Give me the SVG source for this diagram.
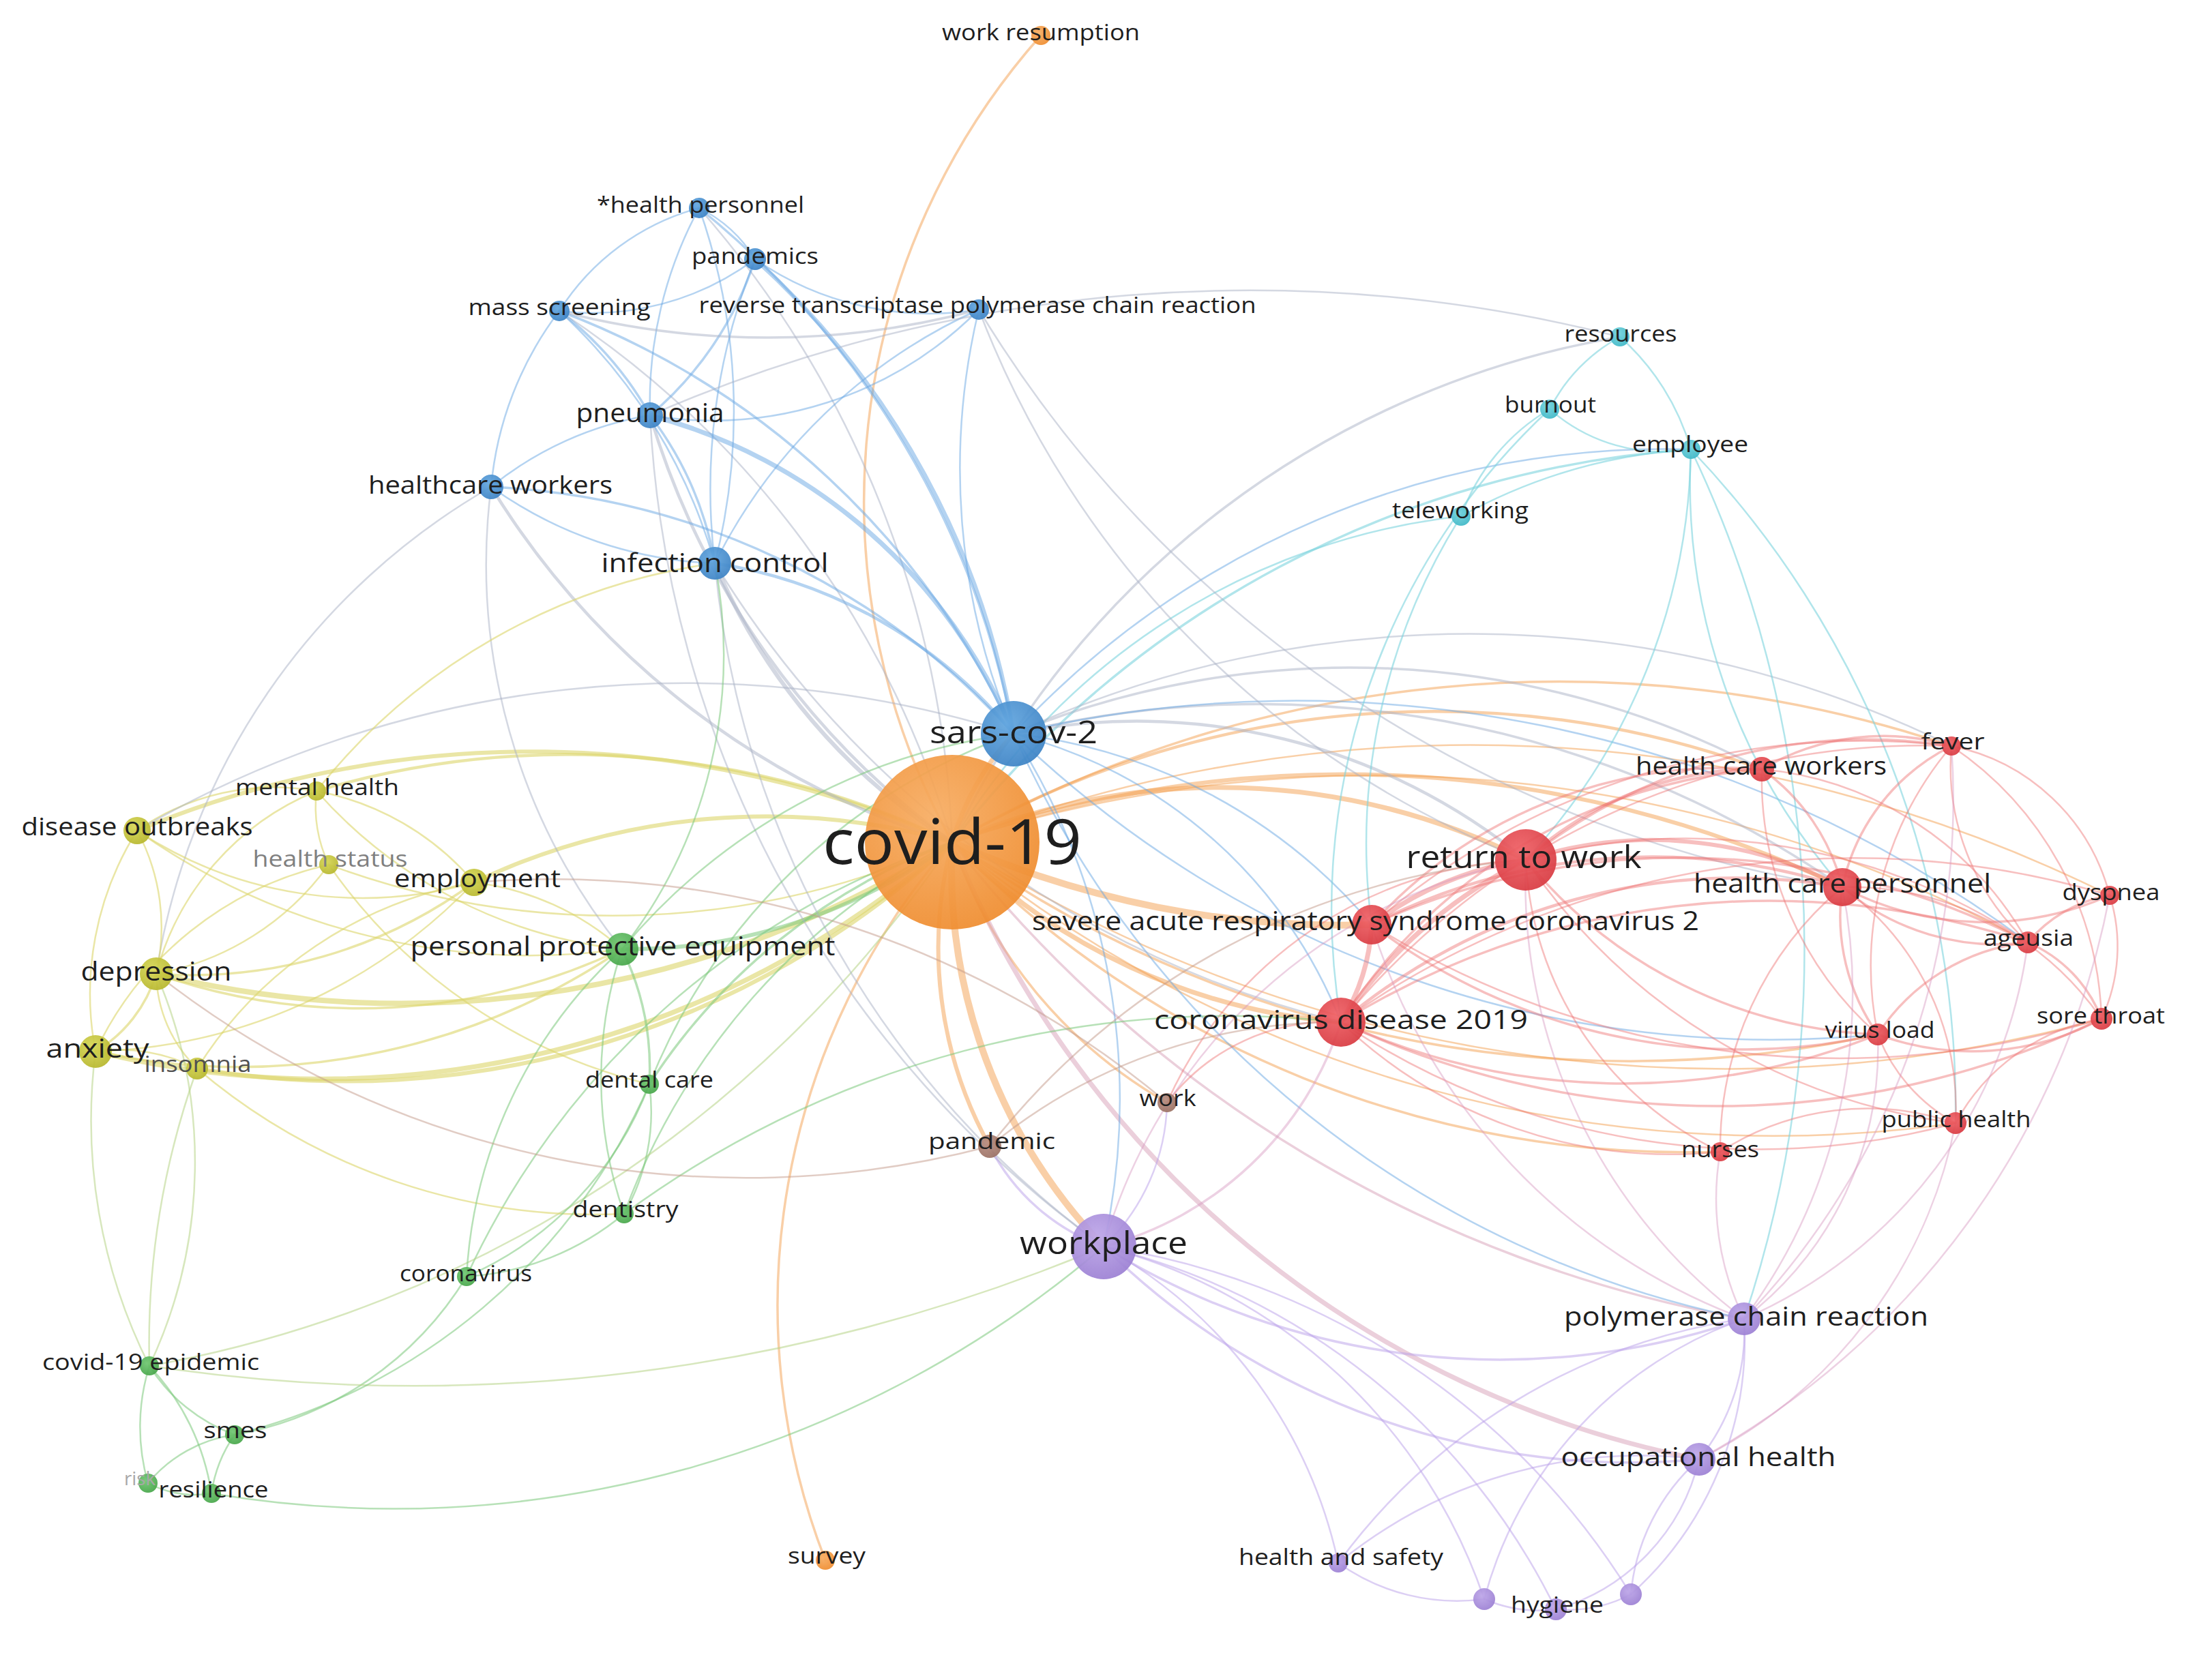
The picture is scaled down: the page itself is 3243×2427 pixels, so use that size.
<svg xmlns="http://www.w3.org/2000/svg" width="3243" height="2427" viewBox="0 0 3243 2427">
<style>
.e path{fill:none;stroke-linecap:round}
.o{stroke:#f4a04f;stroke-opacity:.5}
.r{stroke:#ee7070;stroke-opacity:.45}
.b{stroke:#6aa7e3;stroke-opacity:.5}
.y{stroke:#dcd66a;stroke-opacity:.6}
.g{stroke:#7cc97c;stroke-opacity:.55}
.p{stroke:#b9a0ea;stroke-opacity:.5}
.c{stroke:#7dd4de;stroke-opacity:.6}
.n{stroke:#c4998a;stroke-opacity:.5}
.x{stroke:#a9b1c6;stroke-opacity:.5}
.rp{stroke:#d89ac0;stroke-opacity:.45}
.op{stroke:#d7a0b8;stroke-opacity:.5}
.gy{stroke:#b7d486;stroke-opacity:.55}
.w2{stroke-width:2.5}.w3{stroke-width:3.5}.w4{stroke-width:4.5}.w5{stroke-width:6}.w6{stroke-width:7}.w7{stroke-width:8}.w8{stroke-width:10}
.nd circle{fill-opacity:.93}
.t{font-family:"Open Sans","DejaVu Sans",sans-serif;fill:#1e1e1e;text-anchor:middle}
.f1{font-size:92px}.f2{font-size:46px}.f3{font-size:39px}.f4{font-size:36px}.f5{font-size:32px}.f6{font-size:28px}
.gr1{fill:#808080}.gr2{fill:#505050}.gr3{fill:#a8a8a8}
</style>
<defs>
<radialGradient id="gO" cx=".4" cy=".35" r=".7"><stop offset="0" stop-color="#f7ad63"/><stop offset="1" stop-color="#ef8c2e"/></radialGradient>
<radialGradient id="gB" cx=".4" cy=".35" r=".7"><stop offset="0" stop-color="#62a6df"/><stop offset="1" stop-color="#3c82c4"/></radialGradient>
<radialGradient id="gC" cx=".4" cy=".35" r=".7"><stop offset="0" stop-color="#74d3dd"/><stop offset="1" stop-color="#3db7c6"/></radialGradient>
<radialGradient id="gR" cx=".4" cy=".35" r=".7"><stop offset="0" stop-color="#ef6065"/><stop offset="1" stop-color="#d83a41"/></radialGradient>
<radialGradient id="gY" cx=".4" cy=".35" r=".7"><stop offset="0" stop-color="#d6d655"/><stop offset="1" stop-color="#b6b62c"/></radialGradient>
<radialGradient id="gG" cx=".4" cy=".35" r=".7"><stop offset="0" stop-color="#70c772"/><stop offset="1" stop-color="#46a549"/></radialGradient>
<radialGradient id="gP" cx=".4" cy=".35" r=".7"><stop offset="0" stop-color="#bda6e8"/><stop offset="1" stop-color="#9b7fd3"/></radialGradient>
<radialGradient id="gN" cx=".4" cy=".35" r=".7"><stop offset="0" stop-color="#b88e81"/><stop offset="1" stop-color="#9a7063"/></radialGradient>
</defs>
<rect width="3243" height="2427" fill="#ffffff"/>
<g id="connectors" class="e">
<path class="o w3" d="M1396 1235A1030 1030 0 0 1 1526 52"/>
<path class="o w3" d="M1210 2288A1030 1030 0 0 1 1396 1235"/>
<path class="o w6" d="M1396 1235A400 400 0 0 1 1486 1076"/>
<path class="o w6" d="M1396 1235A1000 1000 0 0 1 2237 1261"/>
<path class="o w8" d="M1396 1235A1400 1400 0 0 0 2011 1356"/>
<path class="o w6" d="M1396 1235A900 900 0 0 0 1966 1499"/>
<path class="o w5" d="M1396 1235A1700 1700 0 0 1 2701 1301"/>
<path class="o w4" d="M1396 1235A1400 1400 0 0 1 2583 1128"/>
<path class="o w3" d="M1396 1235A1800 1800 0 0 1 2861 1094"/>
<path class="o w3" d="M1396 1235A1700 1700 0 0 0 2753 1517"/>
<path class="o w2" d="M1396 1235A1900 1900 0 0 0 2867 1647"/>
<path class="o w3" d="M1396 1235A1500 1500 0 0 0 2522 1689"/>
<path class="o w2" d="M1396 1235A2000 2000 0 0 1 2973 1382"/>
<path class="o w2" d="M1396 1235A2100 2100 0 0 0 3081 1494"/>
<path class="o w2" d="M1396 1235A2100 2100 0 0 1 3093 1313"/>
<path class="o w8" d="M1396 1235A800 800 0 0 0 1618 1828"/>
<path class="o w5" d="M1396 1235A600 600 0 0 0 1451 1681"/>
<path class="o w3" d="M1396 1235A700 700 0 0 0 1711 1617"/>
<path class="op w6" d="M1396 1235A1490 1490 0 0 0 2491 2140"/>
<path class="op w3" d="M1396 1235A1900 1900 0 0 0 2557 1934"/>
<path class="y w7" d="M1396 1235A1500 1500 0 0 1 229 1428"/>
<path class="y w6" d="M1396 1235A1400 1400 0 0 1 140 1542"/>
<path class="y w5" d="M1396 1235A1300 1300 0 0 1 289 1567"/>
<path class="y w5" d="M1396 1235A1500 1500 0 0 0 201 1218"/>
<path class="y w4" d="M1396 1235A1300 1300 0 0 0 464 1160"/>
<path class="y w5" d="M1396 1235A1000 1000 0 0 0 695 1294"/>
<path class="y w2" d="M1396 1235A1200 1200 0 0 1 482 1268"/>
<path class="g w5" d="M1396 1235A800 800 0 0 1 912 1392"/>
<path class="g w3" d="M1396 1235A900 900 0 0 0 952 1590"/>
<path class="g w2" d="M1396 1235A1000 1000 0 0 0 915 1780"/>
<path class="g w2" d="M1396 1235A1200 1200 0 0 0 684 1872"/>
<path class="x w5" d="M1396 1235A900 900 0 0 1 1048 826"/>
<path class="x w4" d="M1396 1235A1200 1200 0 0 1 953 609"/>
<path class="x w4" d="M1396 1235A1200 1200 0 0 1 720 714"/>
<path class="x w2" d="M1396 1235A1400 1400 0 0 0 820 456"/>
<path class="x w2" d="M1396 1235A1500 1500 0 0 0 1025 305"/>
<path class="x w3" d="M1396 1235A1330 1330 0 0 1 2375 494"/>
<path class="c w3" d="M1396 1235A1500 1500 0 0 1 2479 659"/>
<path class="c w2" d="M1396 1235A1000 1000 0 0 1 2142 757"/>
<path class="gy w2" d="M1396 1235A1800 1800 0 0 1 219 2003"/>
<path class="b w5" d="M1486 1076A1200 1200 0 0 0 1107 380"/>
<path class="b w3" d="M1486 1076A1300 1300 0 0 0 1025 305"/>
<path class="b w6" d="M1486 1076A800 800 0 0 0 953 609"/>
<path class="b w4" d="M1486 1076A700 700 0 0 0 1048 826"/>
<path class="b w3" d="M1486 1076A1100 1100 0 0 0 720 714"/>
<path class="b w3" d="M1486 1076A1200 1200 0 0 0 820 456"/>
<path class="b w2" d="M1486 1076A1000 1000 0 0 1 1435 454"/>
<path class="x w4" d="M1486 1076A900 900 0 0 1 2237 1261"/>
<path class="x w3" d="M1486 1076A1500 1500 0 0 1 2701 1301"/>
<path class="x w2" d="M1486 1076A1600 1600 0 0 1 2861 1094"/>
<path class="x w3" d="M1486 1076A1300 1300 0 0 1 2583 1128"/>
<path class="b w2" d="M1486 1076A700 700 0 0 1 1966 1499"/>
<path class="b w2" d="M1486 1076A800 800 0 0 1 2011 1356"/>
<path class="b w2" d="M1486 1076A1000 1000 0 0 1 1618 1828"/>
<path class="b w2" d="M1486 1076A1500 1500 0 0 0 2557 1934"/>
<path class="b w2" d="M1486 1076A1300 1300 0 0 1 2479 659"/>
<path class="b w2" d="M1486 1076A1600 1600 0 0 0 2753 1517"/>
<path class="b w2" d="M1486 1076A1800 1800 0 0 1 2973 1382"/>
<path class="b w2" d="M1025 305A200 200 0 0 1 1107 380"/>
<path class="b w2" d="M1025 305A350 350 0 0 0 820 456"/>
<path class="b w2" d="M1025 305A600 600 0 0 0 953 609"/>
<path class="b w2" d="M1025 305A900 900 0 0 1 1048 826"/>
<path class="b w2" d="M1107 380A400 400 0 0 1 820 456"/>
<path class="b w3" d="M1107 380A500 500 0 0 1 953 609"/>
<path class="b w2" d="M1107 380A900 900 0 0 0 1048 826"/>
<path class="b w2" d="M1107 380A450 450 0 0 0 1435 454"/>
<path class="b w3" d="M820 456A500 500 0 0 1 953 609"/>
<path class="b w2" d="M820 456A500 500 0 0 0 720 714"/>
<path class="b w2" d="M820 456A800 800 0 0 1 1048 826"/>
<path class="x w3" d="M820 456A1200 1200 0 0 0 1435 454"/>
<path class="b w2" d="M953 609A550 550 0 0 0 1435 454"/>
<path class="b w2" d="M953 609A500 500 0 0 0 720 714"/>
<path class="b w3" d="M953 609A500 500 0 0 1 1048 826"/>
<path class="b w2" d="M720 714A600 600 0 0 0 1048 826"/>
<path class="b w2" d="M1048 826A800 800 0 0 1 1435 454"/>
<path class="x w2" d="M953 609A2200 2200 0 0 1 2375 494"/>
<path class="x w2" d="M1435 454A1800 1800 0 0 0 2701 1301"/>
<path class="x w2" d="M1435 454A1400 1400 0 0 0 2237 1261"/>
<path class="x w2" d="M1048 826A1500 1500 0 0 0 1966 1499"/>
<path class="x w2" d="M720 714A900 900 0 0 0 912 1392"/>
<path class="x w2" d="M720 714A1000 1000 0 0 0 229 1428"/>
<path class="x w2" d="M1048 826A1400 1400 0 0 0 1618 1828"/>
<path class="x w2" d="M953 609A1600 1600 0 0 0 1618 1828"/>
<path class="c w2" d="M2375 494A250 250 0 0 0 2272 600"/>
<path class="c w2" d="M2375 494A350 350 0 0 1 2479 659"/>
<path class="c w2" d="M2272 600A250 250 0 0 0 2479 659"/>
<path class="c w2" d="M2272 600A300 300 0 0 0 2142 757"/>
<path class="c w2" d="M2142 757A800 800 0 0 1 2479 659"/>
<path class="c w2" d="M2479 659A1700 1700 0 0 1 2557 1934"/>
<path class="c w2" d="M2479 659A900 900 0 0 0 2701 1301"/>
<path class="c w2" d="M2479 659A900 900 0 0 1 2237 1261"/>
<path class="c w2" d="M2479 659A1400 1400 0 0 1 2867 1647"/>
<path class="c w2" d="M2272 600A1000 1000 0 0 0 1966 1499"/>
<path class="c w2" d="M2142 757A900 900 0 0 0 2011 1356"/>
<path class="r w6" d="M2237 1261A500 500 0 0 0 2011 1356"/>
<path class="r w6" d="M2237 1261A700 700 0 0 0 1966 1499"/>
<path class="r w5" d="M2237 1261A600 600 0 0 1 2701 1301"/>
<path class="r w4" d="M2237 1261A500 500 0 0 1 2583 1128"/>
<path class="r w3" d="M2237 1261A800 800 0 0 1 2861 1094"/>
<path class="r w3" d="M2237 1261A700 700 0 0 0 2753 1517"/>
<path class="r w2" d="M2237 1261A900 900 0 0 1 2973 1382"/>
<path class="r w2" d="M2237 1261A900 900 0 0 0 2867 1647"/>
<path class="r w2" d="M2237 1261A500 500 0 0 0 2522 1689"/>
<path class="r w6" d="M2011 1356A300 300 0 0 1 1966 1499"/>
<path class="r w4" d="M2011 1356A900 900 0 0 1 2701 1301"/>
<path class="r w3" d="M2011 1356A900 900 0 0 0 2753 1517"/>
<path class="r w2" d="M2011 1356A1100 1100 0 0 1 2861 1094"/>
<path class="r w3" d="M2011 1356A1100 1100 0 0 1 2973 1382"/>
<path class="r w2" d="M2011 1356A1300 1300 0 0 0 3081 1494"/>
<path class="r w3" d="M2011 1356A700 700 0 0 1 2583 1128"/>
<path class="r w4" d="M1966 1499A900 900 0 0 1 2701 1301"/>
<path class="r w3" d="M1966 1499A1000 1000 0 0 0 2753 1517"/>
<path class="r w3" d="M1966 1499A1300 1300 0 0 0 3081 1494"/>
<path class="r w3" d="M1966 1499A1200 1200 0 0 1 2973 1382"/>
<path class="r w2" d="M1966 1499A1300 1300 0 0 1 3093 1313"/>
<path class="r w2" d="M1966 1499A1100 1100 0 0 0 2867 1647"/>
<path class="r w2" d="M1966 1499A700 700 0 0 0 2522 1689"/>
<path class="r w2" d="M1966 1499A1100 1100 0 0 1 2861 1094"/>
<path class="r w3" d="M1966 1499A800 800 0 0 1 2583 1128"/>
<path class="r w3" d="M2701 1301A300 300 0 0 0 2583 1128"/>
<path class="r w3" d="M2701 1301A300 300 0 0 1 2861 1094"/>
<path class="r w3" d="M2701 1301A450 450 0 0 0 3093 1313"/>
<path class="r w3" d="M2701 1301A350 350 0 0 0 2973 1382"/>
<path class="r w2" d="M2701 1301A450 450 0 0 1 3081 1494"/>
<path class="r w3" d="M2701 1301A300 300 0 0 0 2753 1517"/>
<path class="r w2" d="M2701 1301A400 400 0 0 1 2867 1647"/>
<path class="r w2" d="M2701 1301A500 500 0 0 0 2522 1689"/>
<path class="r w3" d="M2583 1128A350 350 0 0 1 2861 1094"/>
<path class="r w2" d="M2583 1128A500 500 0 0 0 2753 1517"/>
<path class="r w2" d="M2583 1128A500 500 0 0 1 2973 1382"/>
<path class="r w2" d="M2861 1094A300 300 0 0 1 3093 1313"/>
<path class="r w2" d="M2861 1094A350 350 0 0 0 2973 1382"/>
<path class="r w2" d="M2861 1094A500 500 0 0 1 3081 1494"/>
<path class="r w2" d="M2861 1094A500 500 0 0 0 2753 1517"/>
<path class="r w3" d="M3093 1313A200 200 0 0 0 2973 1382"/>
<path class="r w2" d="M3093 1313A250 250 0 0 1 3081 1494"/>
<path class="r w3" d="M2973 1382A200 200 0 0 1 3081 1494"/>
<path class="r w3" d="M2973 1382A300 300 0 0 0 2753 1517"/>
<path class="r w3" d="M3081 1494A400 400 0 0 1 2753 1517"/>
<path class="r w2" d="M2753 1517A250 250 0 0 0 2867 1647"/>
<path class="r w2" d="M2867 1647A300 300 0 0 1 3081 1494"/>
<path class="r w2" d="M2522 1689A400 400 0 0 1 2867 1647"/>
<path class="r w2" d="M1966 1499A300 300 0 0 0 1711 1617"/>
<path class="r w2" d="M1711 1617A600 600 0 0 1 2237 1261"/>
<path class="n w2" d="M1451 1681A800 800 0 0 1 1966 1499"/>
<path class="n w2" d="M1451 1681A1100 1100 0 0 1 2237 1261"/>
<path class="rp w2" d="M2701 1301A800 800 0 0 1 2557 1934"/>
<path class="rp w2" d="M2753 1517A500 500 0 0 1 2557 1934"/>
<path class="rp w2" d="M2973 1382A700 700 0 0 1 2557 1934"/>
<path class="rp w2" d="M2237 1261A800 800 0 0 0 2557 1934"/>
<path class="rp w2" d="M2011 1356A900 900 0 0 0 2557 1934"/>
<path class="rp w2" d="M2237 1261A800 800 0 0 0 1618 1828"/>
<path class="rp w3" d="M1966 1499A500 500 0 0 1 1618 1828"/>
<path class="rp w2" d="M2867 1647A700 700 0 0 1 2491 2140"/>
<path class="rp w2" d="M2861 1094A1100 1100 0 0 1 2557 1934"/>
<path class="rp w2" d="M2522 1689A400 400 0 0 0 2557 1934"/>
<path class="rp w2" d="M3093 1313A1200 1200 0 0 1 2491 2140"/>
<path class="y w2" d="M201 1218A350 350 0 0 1 464 1160"/>
<path class="y w2" d="M201 1218A300 300 0 0 1 229 1428"/>
<path class="y w2" d="M201 1218A450 450 0 0 0 140 1542"/>
<path class="y w2" d="M201 1218A600 600 0 0 0 695 1294"/>
<path class="y w2" d="M464 1160A200 200 0 0 0 482 1268"/>
<path class="y w2" d="M464 1160A400 400 0 0 1 695 1294"/>
<path class="y w2" d="M464 1160A400 400 0 0 0 229 1428"/>
<path class="y w2" d="M482 1268A400 400 0 0 1 229 1428"/>
<path class="y w2" d="M482 1268A500 500 0 0 0 140 1542"/>
<path class="y w3" d="M695 1294A700 700 0 0 1 229 1428"/>
<path class="y w2" d="M695 1294A800 800 0 0 1 140 1542"/>
<path class="y w2" d="M695 1294A600 600 0 0 0 289 1567"/>
<path class="y w3" d="M229 1428A200 200 0 0 1 140 1542"/>
<path class="y w2" d="M229 1428A200 200 0 0 0 289 1567"/>
<path class="y w2" d="M140 1542A250 250 0 0 1 289 1567"/>
<path class="gy w2" d="M140 1542A800 800 0 0 0 219 2003"/>
<path class="gy w2" d="M229 1428A700 700 0 0 1 219 2003"/>
<path class="gy w2" d="M289 1567A1200 1200 0 0 0 219 2003"/>
<path class="y w3" d="M229 1428A900 900 0 0 0 912 1392"/>
<path class="y w3" d="M140 1542A1000 1000 0 0 0 912 1392"/>
<path class="y w2" d="M464 1160A700 700 0 0 0 912 1392"/>
<path class="x w2" d="M201 1218A1600 1600 0 0 1 1486 1076"/>
<path class="y w2" d="M289 1567A900 900 0 0 0 915 1780"/>
<path class="y w2" d="M464 1160A900 900 0 0 1 1048 826"/>
<path class="y w2" d="M695 1294A400 400 0 0 1 912 1392"/>
<path class="y w2" d="M482 1268A800 800 0 0 0 952 1590"/>
<path class="y w2" d="M201 1218A1000 1000 0 0 0 912 1392"/>
<path class="g w3" d="M912 1392A400 400 0 0 1 952 1590"/>
<path class="g w2" d="M912 1392A600 600 0 0 0 915 1780"/>
<path class="g w2" d="M952 1590A300 300 0 0 1 915 1780"/>
<path class="g w2" d="M684 1872A400 400 0 0 0 915 1780"/>
<path class="g w2" d="M684 1872A500 500 0 0 0 952 1590"/>
<path class="g w2" d="M684 1872A700 700 0 0 1 912 1392"/>
<path class="g w2" d="M684 1872A500 500 0 0 1 344 2104"/>
<path class="g w2" d="M219 2003A250 250 0 0 0 344 2104"/>
<path class="g w2" d="M219 2003A300 300 0 0 0 217 2175"/>
<path class="g w2" d="M219 2003A350 350 0 0 1 310 2190"/>
<path class="g w2" d="M344 2104A200 200 0 0 0 217 2175"/>
<path class="g w2" d="M344 2104A200 200 0 0 0 310 2190"/>
<path class="g w2" d="M217 2175A150 150 0 0 0 310 2190"/>
<path class="g w2" d="M310 2190A1600 1600 0 0 0 1618 1828"/>
<path class="gy w2" d="M219 2003A2600 2600 0 0 0 1618 1828"/>
<path class="g w2" d="M912 1392A700 700 0 0 0 1048 826"/>
<path class="g w2" d="M912 1392A900 900 0 0 1 1486 1076"/>
<path class="g w2" d="M952 1590A900 900 0 0 1 1486 1076"/>
<path class="g w2" d="M915 1780A1500 1500 0 0 1 1966 1499"/>
<path class="g w2" d="M344 2104A900 900 0 0 0 952 1590"/>
<path class="p w3" d="M1618 1828A1100 1100 0 0 0 2557 1934"/>
<path class="p w3" d="M1618 1828A1100 1100 0 0 0 2491 2140"/>
<path class="p w2" d="M1618 1828A700 700 0 0 1 1962 2292"/>
<path class="p w2" d="M1618 1828A800 800 0 0 1 2176 2345"/>
<path class="p w2" d="M1618 1828A1000 1000 0 0 1 2281 2360"/>
<path class="p w2" d="M1618 1828A1100 1100 0 0 1 2391 2338"/>
<path class="p w2" d="M2557 1934A300 300 0 0 1 2491 2140"/>
<path class="p w2" d="M2557 1934A600 600 0 0 0 2176 2345"/>
<path class="p w2" d="M2557 1934A500 500 0 0 1 2391 2338"/>
<path class="p w2" d="M2491 2140A300 300 0 0 1 2281 2360"/>
<path class="p w2" d="M2491 2140A300 300 0 0 0 2391 2338"/>
<path class="p w2" d="M2491 2140A700 700 0 0 0 1962 2292"/>
<path class="p w2" d="M1962 2292A300 300 0 0 0 2176 2345"/>
<path class="p w2" d="M2176 2345A200 200 0 0 0 2281 2360"/>
<path class="p w2" d="M2281 2360A200 200 0 0 0 2391 2338"/>
<path class="p w2" d="M2557 1934A900 900 0 0 0 1962 2292"/>
<path class="p w3" d="M1618 1828A300 300 0 0 1 1451 1681"/>
<path class="p w2" d="M1618 1828A300 300 0 0 0 1711 1617"/>
<path class="n w2" d="M1451 1681A1400 1400 0 0 1 229 1428"/>
<path class="n w2" d="M1711 1617A1400 1400 0 0 0 695 1294"/>
</g>
<g id="nodes" class="nd">
<g id="node-covid-19"><circle cx="1396" cy="1235" r="128" fill="url(#gO)"/><text class="t f1" x="1396" y="1235" dy="0.35em" textLength="380" lengthAdjust="spacingAndGlyphs">covid-19</text></g>
<g id="node-sars-cov-2"><circle cx="1486" cy="1076" r="48" fill="url(#gB)"/><text class="t f2" x="1486" y="1074" dy="0.35em" textLength="246" lengthAdjust="spacingAndGlyphs">sars-cov-2</text></g>
<g id="node-work-resumption"><circle cx="1526" cy="52" r="14" fill="url(#gO)"/><text class="t f5" x="1526" y="48" dy="0.35em" textLength="290" lengthAdjust="spacingAndGlyphs">work resumption</text></g>
<g id="node-survey"><circle cx="1210" cy="2288" r="14" fill="url(#gO)"/><text class="t f5" x="1212" y="2282" dy="0.35em" textLength="114" lengthAdjust="spacingAndGlyphs">survey</text></g>
<g id="node-health-personnel"><circle cx="1025" cy="305" r="15" fill="url(#gB)"/><text class="t f5" x="1027" y="301" dy="0.35em" textLength="304" lengthAdjust="spacingAndGlyphs">*health personnel</text></g>
<g id="node-pandemics"><circle cx="1107" cy="380" r="16" fill="url(#gB)"/><text class="t f5" x="1107" y="376" dy="0.35em" textLength="186" lengthAdjust="spacingAndGlyphs">pandemics</text></g>
<g id="node-mass-screening"><circle cx="820" cy="456" r="15" fill="url(#gB)"/><text class="t f5" x="820" y="451" dy="0.35em" textLength="267" lengthAdjust="spacingAndGlyphs">mass screening</text></g>
<g id="node-rt-pcr"><circle cx="1435" cy="454" r="15" fill="url(#gB)"/><text class="t f5" x="1433" y="448" dy="0.35em" textLength="817" lengthAdjust="spacingAndGlyphs">reverse transcriptase polymerase chain reaction</text></g>
<g id="node-pneumonia"><circle cx="953" cy="609" r="19" fill="url(#gB)"/><text class="t f3" x="953" y="605" dy="0.35em" textLength="217" lengthAdjust="spacingAndGlyphs">pneumonia</text></g>
<g id="node-healthcare-workers"><circle cx="720" cy="714" r="18" fill="url(#gB)"/><text class="t f4" x="719" y="711" dy="0.35em" textLength="358" lengthAdjust="spacingAndGlyphs">healthcare workers</text></g>
<g id="node-infection-control"><circle cx="1048" cy="826" r="24" fill="url(#gB)"/><text class="t f3" x="1048" y="825" dy="0.35em" textLength="333" lengthAdjust="spacingAndGlyphs">infection control</text></g>
<g id="node-resources"><circle cx="2375" cy="494" r="14" fill="url(#gC)"/><text class="t f5" x="2376" y="490" dy="0.35em" textLength="165" lengthAdjust="spacingAndGlyphs">resources</text></g>
<g id="node-burnout"><circle cx="2272" cy="600" r="14" fill="url(#gC)"/><text class="t f5" x="2273" y="594" dy="0.35em" textLength="134" lengthAdjust="spacingAndGlyphs">burnout</text></g>
<g id="node-employee"><circle cx="2479" cy="659" r="14" fill="url(#gC)"/><text class="t f5" x="2478" y="652" dy="0.35em" textLength="170" lengthAdjust="spacingAndGlyphs">employee</text></g>
<g id="node-teleworking"><circle cx="2142" cy="757" r="14" fill="url(#gC)"/><text class="t f5" x="2141" y="749" dy="0.35em" textLength="200" lengthAdjust="spacingAndGlyphs">teleworking</text></g>
<g id="node-fever"><circle cx="2861" cy="1094" r="14" fill="url(#gR)"/><text class="t f5" x="2863" y="1088" dy="0.35em" textLength="93" lengthAdjust="spacingAndGlyphs">fever</text></g>
<g id="node-health-care-workers"><circle cx="2583" cy="1128" r="18" fill="url(#gR)"/><text class="t f4" x="2582" y="1123" dy="0.35em" textLength="368" lengthAdjust="spacingAndGlyphs">health care workers</text></g>
<g id="node-return-to-work"><circle cx="2237" cy="1261" r="45" fill="url(#gR)"/><text class="t f2" x="2234" y="1257" dy="0.35em" textLength="345" lengthAdjust="spacingAndGlyphs">return to work</text></g>
<g id="node-health-care-personnel"><circle cx="2701" cy="1301" r="28" fill="url(#gR)"/><text class="t f3" x="2701" y="1295" dy="0.35em" textLength="436" lengthAdjust="spacingAndGlyphs">health care personnel</text></g>
<g id="node-dyspnea"><circle cx="3093" cy="1313" r="14" fill="url(#gR)"/><text class="t f5" x="3095" y="1309" dy="0.35em" textLength="143" lengthAdjust="spacingAndGlyphs">dyspnea</text></g>
<g id="node-sars-coronavirus-2"><circle cx="2011" cy="1356" r="29" fill="url(#gR)"/><text class="t f3" x="2002" y="1350" dy="0.35em" textLength="978" lengthAdjust="spacingAndGlyphs">severe acute respiratory syndrome coronavirus 2</text></g>
<g id="node-ageusia"><circle cx="2973" cy="1382" r="16" fill="url(#gR)"/><text class="t f5" x="2974" y="1376" dy="0.35em" textLength="132" lengthAdjust="spacingAndGlyphs">ageusia</text></g>
<g id="node-coronavirus-disease-2019"><circle cx="1966" cy="1499" r="36" fill="url(#gR)"/><text class="t f3" x="1966" y="1495" dy="0.35em" textLength="548" lengthAdjust="spacingAndGlyphs">coronavirus disease 2019</text></g>
<g id="node-sore-throat"><circle cx="3081" cy="1494" r="16" fill="url(#gR)"/><text class="t f5" x="3080" y="1490" dy="0.35em" textLength="188" lengthAdjust="spacingAndGlyphs">sore throat</text></g>
<g id="node-virus-load"><circle cx="2753" cy="1517" r="16" fill="url(#gR)"/><text class="t f5" x="2756" y="1511" dy="0.35em" textLength="161" lengthAdjust="spacingAndGlyphs">virus load</text></g>
<g id="node-public-health"><circle cx="2867" cy="1647" r="16" fill="url(#gR)"/><text class="t f5" x="2868" y="1642" dy="0.35em" textLength="219" lengthAdjust="spacingAndGlyphs">public health</text></g>
<g id="node-nurses"><circle cx="2522" cy="1689" r="14" fill="url(#gR)"/><text class="t f5" x="2522" y="1686" dy="0.35em" textLength="114" lengthAdjust="spacingAndGlyphs">nurses</text></g>
<g id="node-work"><circle cx="1711" cy="1617" r="14" fill="url(#gN)"/><text class="t f5" x="1712" y="1611" dy="0.35em" textLength="83" lengthAdjust="spacingAndGlyphs">work</text></g>
<g id="node-pandemic"><circle cx="1451" cy="1681" r="17" fill="url(#gN)"/><text class="t f5" x="1454" y="1674" dy="0.35em" textLength="186" lengthAdjust="spacingAndGlyphs">pandemic</text></g>
<g id="node-workplace"><circle cx="1618" cy="1828" r="48" fill="url(#gP)"/><text class="t f2" x="1618" y="1823" dy="0.35em" textLength="246" lengthAdjust="spacingAndGlyphs">workplace</text></g>
<g id="node-mental-health"><circle cx="464" cy="1160" r="14" fill="url(#gY)"/><text class="t f5" x="465" y="1155" dy="0.35em" textLength="240" lengthAdjust="spacingAndGlyphs">mental health</text></g>
<g id="node-disease-outbreaks"><circle cx="201" cy="1218" r="20" fill="url(#gY)"/><text class="t f4" x="201" y="1212" dy="0.35em" textLength="339" lengthAdjust="spacingAndGlyphs">disease outbreaks</text></g>
<g id="node-health-status"><circle cx="482" cy="1268" r="14" fill="url(#gY)"/><text class="t f5 gr1" x="484" y="1260" dy="0.35em" textLength="227" lengthAdjust="spacingAndGlyphs">health status</text></g>
<g id="node-employment"><circle cx="695" cy="1294" r="20" fill="url(#gY)"/><text class="t f4" x="700" y="1288" dy="0.35em" textLength="244" lengthAdjust="spacingAndGlyphs">employment</text></g>
<g id="node-depression"><circle cx="229" cy="1428" r="24" fill="url(#gY)"/><text class="t f3" x="229" y="1424" dy="0.35em" textLength="221" lengthAdjust="spacingAndGlyphs">depression</text></g>
<g id="node-anxiety"><circle cx="140" cy="1542" r="24" fill="url(#gY)"/><text class="t f3" x="143" y="1537" dy="0.35em" textLength="151" lengthAdjust="spacingAndGlyphs">anxiety</text></g>
<g id="node-insomnia"><circle cx="289" cy="1567" r="16" fill="url(#gY)"/><text class="t f5 gr2" x="290" y="1561" dy="0.35em" textLength="157" lengthAdjust="spacingAndGlyphs">insomnia</text></g>
<g id="node-personal-protective-equipment"><circle cx="912" cy="1392" r="24" fill="url(#gG)"/><text class="t f3" x="913" y="1387" dy="0.35em" textLength="623" lengthAdjust="spacingAndGlyphs">personal protective equipment</text></g>
<g id="node-dental-care"><circle cx="952" cy="1590" r="14" fill="url(#gG)"/><text class="t f5" x="952" y="1584" dy="0.35em" textLength="188" lengthAdjust="spacingAndGlyphs">dental care</text></g>
<g id="node-dentistry"><circle cx="915" cy="1780" r="14" fill="url(#gG)"/><text class="t f5" x="917" y="1774" dy="0.35em" textLength="155" lengthAdjust="spacingAndGlyphs">dentistry</text></g>
<g id="node-coronavirus"><circle cx="684" cy="1872" r="14" fill="url(#gG)"/><text class="t f5" x="683" y="1868" dy="0.35em" textLength="194" lengthAdjust="spacingAndGlyphs">coronavirus</text></g>
<g id="node-covid-19-epidemic"><circle cx="219" cy="2003" r="14" fill="url(#gG)"/><text class="t f5" x="221" y="1998" dy="0.35em" textLength="318" lengthAdjust="spacingAndGlyphs">covid-19 epidemic</text></g>
<g id="node-smes"><circle cx="344" cy="2104" r="14" fill="url(#gG)"/><text class="t f5" x="345" y="2098" dy="0.35em" textLength="93" lengthAdjust="spacingAndGlyphs">smes</text></g>
<g id="node-risk"><circle cx="217" cy="2175" r="14" fill="url(#gG)"/><text class="t f6 gr3" x="205" y="2168" dy="0.35em" textLength="46" lengthAdjust="spacingAndGlyphs">risk</text></g>
<g id="node-resilience"><circle cx="310" cy="2190" r="14" fill="url(#gG)"/><text class="t f5" x="313" y="2185" dy="0.35em" textLength="161" lengthAdjust="spacingAndGlyphs">resilience</text></g>
<g id="node-polymerase-chain-reaction"><circle cx="2557" cy="1934" r="24" fill="url(#gP)"/><text class="t f3" x="2560" y="1930" dy="0.35em" textLength="534" lengthAdjust="spacingAndGlyphs">polymerase chain reaction</text></g>
<g id="node-occupational-health"><circle cx="2491" cy="2140" r="24" fill="url(#gP)"/><text class="t f3" x="2490" y="2136" dy="0.35em" textLength="403" lengthAdjust="spacingAndGlyphs">occupational health</text></g>
<g id="node-health-and-safety"><circle cx="1962" cy="2292" r="14" fill="url(#gP)"/><text class="t f5" x="1966" y="2284" dy="0.35em" textLength="300" lengthAdjust="spacingAndGlyphs">health and safety</text></g>
<g id="node-p1"><circle cx="2176" cy="2345" r="16" fill="url(#gP)"/></g>
<g id="node-hygiene"><circle cx="2281" cy="2360" r="16" fill="url(#gP)"/><text class="t f5" x="2283" y="2354" dy="0.35em" textLength="136" lengthAdjust="spacingAndGlyphs">hygiene</text></g>
<g id="node-p2"><circle cx="2391" cy="2338" r="16" fill="url(#gP)"/></g>
</g>
</svg>
